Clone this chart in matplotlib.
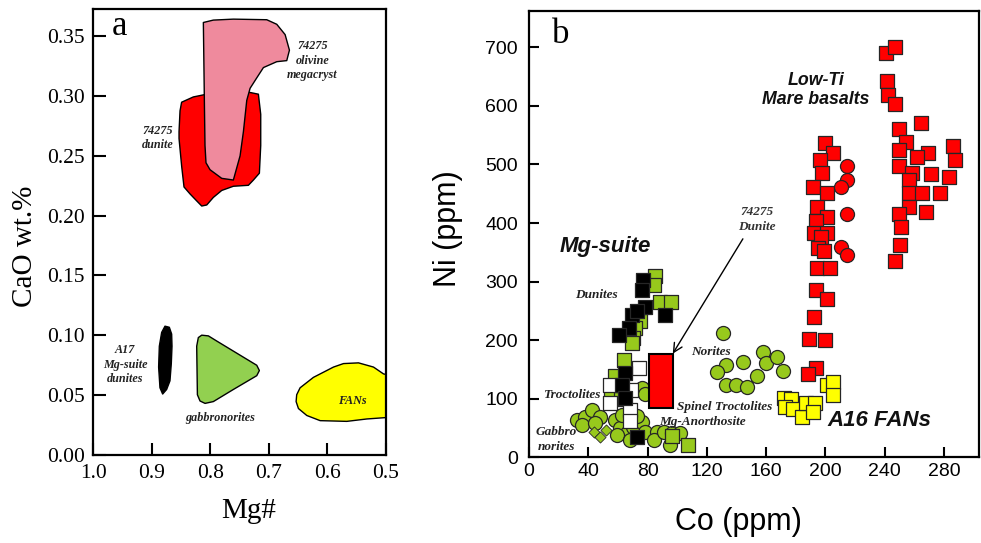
import matplotlib
matplotlib.use("Agg")
import matplotlib.pyplot as plt
from matplotlib.patches import Polygon, Rectangle

# ---------------- Panel a: CaO vs Mg# fields ----------------
megacryst_mg = [0.8118, 0.7947, 0.7605, 0.7034, 0.6863, 0.6720, 0.6646, 0.6692, 0.6863,
                0.7091, 0.7205, 0.7319, 0.7376, 0.7433, 0.7490, 0.7605, 0.7804, 0.8004,
                0.8073, 0.8090, 0.8100]
megacryst_cao = [0.3610, 0.3630, 0.3638, 0.3633, 0.3595, 0.3509, 0.3379, 0.3292, 0.3283,
                 0.3234, 0.3148, 0.3061, 0.2960, 0.2700, 0.2498, 0.2296, 0.2310, 0.2382,
                 0.2440, 0.2584, 0.2931]

dunite_mg = [0.849, 0.829, 0.806, 0.7605, 0.7377, 0.7177, 0.7137, 0.7137, 0.716, 0.7262,
             0.7348, 0.7605, 0.7804, 0.7947, 0.806, 0.8146, 0.8232, 0.8346, 0.8449, 0.8489,
             0.8534, 0.8534, 0.8517]
dunite_cao = [0.2945, 0.2989, 0.3012, 0.3023, 0.3032, 0.3012, 0.2844, 0.2584, 0.2353, 0.2296,
              0.2252, 0.2244, 0.2209, 0.2151, 0.2088, 0.2079, 0.2122, 0.2180, 0.2238, 0.2411,
              0.2642, 0.2700, 0.2873]

a17_mg = [0.8774, 0.8700, 0.8660, 0.8654, 0.8666, 0.8689, 0.8746, 0.8814, 0.8860, 0.8883,
          0.8871, 0.8831]
a17_cao = [0.1077, 0.1068, 0.1011, 0.0910, 0.0765, 0.0621, 0.0549, 0.0511, 0.0563, 0.0736,
           0.0910, 0.1025]

gabbro_mg = [0.8204, 0.8146, 0.8032, 0.7889, 0.7205, 0.7160, 0.7205, 0.7605, 0.7947, 0.8089,
             0.8175, 0.8220, 0.8232]
gabbro_cao = [0.0982, 0.1002, 0.0996, 0.0953, 0.0751, 0.0707, 0.0664, 0.0549, 0.0448, 0.0433,
              0.0453, 0.0505, 0.0910]

fan_mg = [0.6522, 0.6464, 0.6236, 0.5893, 0.5722, 0.5465, 0.5209, 0.5038, 0.4900, 0.4900,
          0.5323, 0.5665, 0.6121, 0.6349, 0.6492, 0.6532]
fan_cao = [0.0505, 0.0563, 0.0650, 0.0736, 0.0765, 0.0771, 0.0736, 0.0679, 0.0664, 0.0318,
           0.0303, 0.0283, 0.0289, 0.0332, 0.0390, 0.0448]

# ---------------- Panel b: Ni vs Co ----------------
mare_sq_co = [199.8, 205.4, 196.4, 197.8, 191.9, 201.3, 194.6, 200.9, 193.3, 192.4, 200.9,
              197.3, 195.1, 199.1, 194.2, 203.2, 193.3, 201.3, 192.4, 189.2, 199.8, 193.7,
              188.5,
              240.9, 247.2, 241.4, 242.1, 247.2, 264.7, 249.5, 254.4, 249.9, 286.3, 269.4,
              262.0, 287.7, 249.9, 258.3, 271.1, 256.2, 283.2, 256.2, 265.0, 277.3, 256.2,
              267.9, 249.9, 251.2, 250.4, 246.8]
mare_sq_ni = [536, 520, 508, 485, 462, 451, 427, 410, 404, 383, 383,
              376, 357, 353, 323, 323, 285, 270, 240, 202, 200, 152,
              143,
              690, 700, 642, 619, 604, 570, 560, 539, 524, 532, 520,
              512, 508, 498, 485, 484, 474, 478, 451, 451, 451, 428,
              418, 416, 393, 363, 336]
mare_ci_co = [214.8, 214.8, 210.4, 214.4, 210.4, 214.8]
mare_ci_ni = [498, 474, 461, 416, 359, 346]

fan_co = [172.2, 176.7, 172.8, 178.4, 184.1, 187.0, 193.1, 191.9, 201.0, 205.4, 205.4]
fan_ni = [101, 100, 86, 83, 69, 92, 92, 78, 124, 129, 106]

norite_co = [131.2, 133.0, 144.3, 126.8, 133.0, 139.8, 147.0, 153.7, 158.2, 160.0, 167.6, 171.7]
norite_ni = [213, 158, 162, 146, 124, 124, 120, 138, 179, 161, 172, 148]

gabnor_co = [32.2, 37.9, 42.5, 48.1, 35.7, 44.7, 58.2, 61.6, 66.1, 59.3, 70.5, 76.2, 78.4,
             68.3, 86.3, 84.0, 90.8, 96.4, 102.0, 95.3, 76.2, 78.0, 73.0, 63.0]
gabnor_ni = [64, 69, 81, 69, 55, 58, 64, 50, 41, 38, 52, 61, 44,
             30, 44, 30, 44, 41, 42, 21, 118, 108, 70, 72]

spinel_co = [43.6, 47.6, 52.1]
spinel_ni = [44, 34, 47]

mgs_green_co = [85.2, 84.0, 88.5, 95.7, 75.0, 71.7, 70.5, 69.4, 64.3, 58.0, 55.0, 62.0,
                96.4, 107.6]
mgs_green_ni = [309, 294, 266, 266, 232, 220, 203, 195, 166, 138, 112, 100, 36, 21]

mgs_white_co = [73.9, 54.8, 68.8, 54.8, 68.3, 68.3]
mgs_white_ni = [152, 124, 115, 92, 81, 62]

mgs_black_co = [76.9, 76.2, 78.4, 69.4, 91.9, 67.8, 60.4, 73.0, 64.9, 63.0, 64.9, 73.2]
mgs_black_ni = [302, 286, 257, 243, 243, 220, 209, 250, 144, 124, 101, 35]

dunite74275_co = [81.0, 97.0]
dunite74275_ni = [84.0, 177.0]

a_xticks = [1.0, 0.9, 0.8, 0.7, 0.6, 0.5]
a_yticks = [0.00, 0.05, 0.10, 0.15, 0.20, 0.25, 0.30, 0.35]
b_xticks = [0, 40, 80, 120, 160, 200, 240, 280]
b_yticks = [0, 100, 200, 300, 400, 500, 600, 700]

SERIF = ["Liberation Serif", "DejaVu Serif"]
SANS = ["Liberation Sans", "DejaVu Sans"]

GREEN = "#97c91c"
RED = "#ff0000"
YELLOW = "#ffff00"
PINK = "#ef8a9d"

W, H = 981, 543
fig = plt.figure(figsize=(W / 100, H / 100), dpi=100)


def px_axes(left, right, top, bottom):
    return fig.add_axes([left / W, 1 - bottom / H, (right - left) / W, (bottom - top) / H])


# ---------------- panel a ----------------
ax = px_axes(93.3, 385.7, 8.7, 455.3)
ax.set_xlim(1.0, 0.5)
ax.set_ylim(0, 0.3725)

fields = [
    (dunite_mg, dunite_cao, RED),
    (megacryst_mg, megacryst_cao, PINK),
    (a17_mg, a17_cao, "black"),
    (gabbro_mg, gabbro_cao, "#92d050"),
    (fan_mg, fan_cao, YELLOW),
]
for xs, ys, col in fields:
    poly = Polygon(list(zip(xs, ys)), closed=True, facecolor=col, edgecolor="black",
                   linewidth=1.0, joinstyle="round")
    ax.add_patch(poly)

ax.set_xticks(a_xticks)
ax.set_xticklabels([f"{v:.1f}" for v in a_xticks])
ax.set_yticks(a_yticks)
ax.set_yticklabels([f"{v:.2f}" for v in a_yticks])
ax.tick_params(direction="in", length=9, width=1.5, labelsize=15.5, pad=6,
               top=False, right=False)
for lab in ax.get_xticklabels() + ax.get_yticklabels():
    lab.set_family(SERIF)
for s in ax.spines.values():
    s.set_linewidth(1.6)

ax.set_xlabel("Mg#", family=SERIF, fontsize=21, va="center", ha="center")
ax.set_ylabel("CaO wt.%", family=SERIF, fontsize=21, va="center", ha="center")
ax.xaxis.set_label_coords(0.530, -0.124)
ax.yaxis.set_label_coords(-0.2336, 0.4675)

ax.text(0.956, 0.358, "a", family=SERIF, fontsize=25, ha="center", va="center")
small = dict(family=SERIF, fontsize=8.7, style="italic", weight="bold",
             ha="center", va="center", color="#222222")
ax.text(0.6254, 0.3292, "74275\nolivine\nmegacryst", linespacing=1.25, **small)
ax.text(0.890, 0.2648, "74275\ndunite", linespacing=1.25, **small)
ax.text(0.9453, 0.0757, "A17\nMg-suite\ndunites", linespacing=1.25, **small)
ax.text(0.7834, 0.0309, "gabbronorites", **small)
ax.text(0.5565, 0.0453, "FANs", **small)

# ---------------- panel b ----------------
bx = px_axes(529, 979, 11, 457.3)
bx.set_xlim(0, 303.6)
bx.set_ylim(0, 762)

ms = 102
ew = 0.9
edge = "#262626"
# Mg-suite lithologies
bx.scatter(gabnor_co, gabnor_ni, s=ms, marker="o", facecolor=GREEN, edgecolor=edge,
           linewidth=ew, zorder=3)
bx.scatter(spinel_co, spinel_ni, s=32, marker="D", facecolor=GREEN, edgecolor=edge,
           linewidth=0.6, zorder=3)
bx.scatter(mgs_green_co, mgs_green_ni, s=ms, marker="s", facecolor=GREEN, edgecolor=edge,
           linewidth=ew, zorder=4)
bx.scatter(mgs_white_co, mgs_white_ni, s=ms, marker="s", facecolor="white", edgecolor=edge,
           linewidth=ew, zorder=5)
bx.scatter(mgs_black_co, mgs_black_ni, s=ms, marker="s", facecolor="black", edgecolor=edge,
           linewidth=ew, zorder=6)
bx.scatter(norite_co, norite_ni, s=ms, marker="o", facecolor=GREEN, edgecolor=edge,
           linewidth=ew, zorder=3)
# FANs and mare basalts
bx.scatter(fan_co, fan_ni, s=ms, marker="s", facecolor=YELLOW, edgecolor=edge,
           linewidth=ew, zorder=3)
bx.scatter(mare_sq_co, mare_sq_ni, s=ms, marker="s", facecolor=RED, edgecolor=edge,
           linewidth=ew, zorder=3)
bx.scatter(mare_ci_co, mare_ci_ni, s=ms, marker="o", facecolor=RED, edgecolor=edge,
           linewidth=ew, zorder=3)

# 74275 dunite range
bx.add_patch(Rectangle((dunite74275_co[0], dunite74275_ni[0]),
                       dunite74275_co[1] - dunite74275_co[0],
                       dunite74275_ni[1] - dunite74275_ni[0],
                       facecolor=RED, edgecolor="black", linewidth=1.5, zorder=7))
bx.annotate("", xy=(dunite74275_co[1], dunite74275_ni[1]), xytext=(144.3, 373),
            arrowprops=dict(arrowstyle="->", color="black", lw=1.0, mutation_scale=16,
                            shrinkA=0, shrinkB=0), zorder=8)

bx.set_xticks(b_xticks)
bx.set_yticks(b_yticks)
bx.tick_params(direction="in", length=7.5, width=1.5, labelsize=14, top=False, right=False)
bx.tick_params(axis="y", pad=8)
bx.tick_params(axis="x", pad=4)
for lab in bx.get_xticklabels() + bx.get_yticklabels():
    lab.set_family(SANS)
for s in bx.spines.values():
    s.set_linewidth(1.6)

bx.set_xlabel("Co (ppm)", family=SANS, fontsize=22, va="center", ha="center")
bx.set_ylabel("Ni (ppm)", family=SANS, fontsize=22, va="center", ha="center")
bx.xaxis.set_label_coords(0.4644, -0.145)
bx.yaxis.set_label_coords(-0.18, 0.5127)

bx.text(21.1, 722, "b", family=SERIF, fontsize=25, ha="center", va="center")
big = dict(family=SANS, style="italic", weight="bold", ha="center", va="center",
           color="#111111")
bx.text(193.5, 627, "Low-Ti\nMare basalts", fontsize=12.8, linespacing=1.2, **big)
bx.text(51.8, 360, "Mg-suite", fontsize=16, **big)
bx.text(236.3, 62, "A16 FANs", fontsize=16, **big)

lab_kw = dict(family=SERIF, style="italic", weight="bold", ha="center", va="center",
              fontsize=9.5, color="#222222")
bx.text(45.2, 277, "Dunites", **lab_kw)
bx.text(122.5, 180, "Norites", **lab_kw)
bx.text(29.0, 107, "Troctolites", zorder=9, **lab_kw)
bx.text(18.3, 30, "Gabbro\nnorites", linespacing=1.35, zorder=9, **lab_kw)
bx.text(132.0, 86, "Spinel Troctolites", zorder=9, **lab_kw)
bx.text(117.3, 60, "Mg-Anorthosite", zorder=9, **lab_kw)
bx.text(153.6, 406, "74275\nDunite", family=SERIF, style="italic", weight="bold",
        ha="center", va="center", fontsize=9.5, linespacing=1.25, color="#333333")

fig.savefig("out.png", dpi=100)
